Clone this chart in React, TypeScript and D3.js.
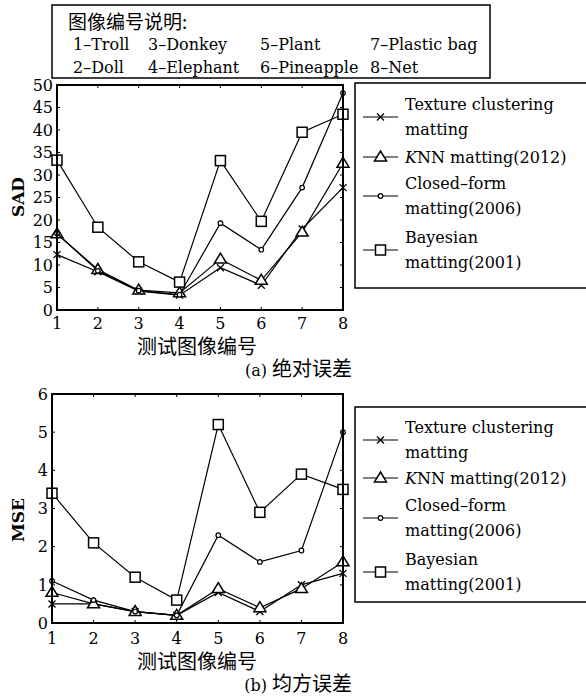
import * as d3 from 'd3';

const images = [1, 2, 3, 4, 5, 6, 7, 8];
const imageNames = ['1–Troll', '2–Doll', '3–Donkey', '4–Elephant', '5–Plant', '6–Pineapple', '7–Plastic bag', '8–Net'];

const sadTexture = [12.3, 8.5, 4.2, 3.3, 9.4, 5.5, 18.0, 27.2];
const sadKnn = [16.9, 9.0, 4.4, 3.8, 11.3, 6.6, 17.3, 32.6];
const sadClosed = [17.0, 8.7, 4.3, 3.4, 19.3, 13.4, 27.2, 48.2];
const sadBayes = [33.3, 18.4, 10.7, 6.2, 33.2, 19.7, 39.5, 43.5];

const mseTexture = [0.5, 0.5, 0.3, 0.2, 0.8, 0.3, 1.0, 1.3];
const mseKnn = [0.8, 0.5, 0.3, 0.2, 0.9, 0.4, 0.9, 1.6];
const mseClosed = [1.1, 0.6, 0.3, 0.2, 2.3, 1.6, 1.9, 5.0];
const mseBayes = [3.4, 2.1, 1.2, 0.6, 5.2, 2.9, 3.9, 3.5];

const sadTicks = d3.range(0, 51, 5);
const mseTicks = d3.range(0, 7, 1);

const legendLabels = [
  ['Texture clustering', 'matting'],
  ['KNN matting(2012)'],
  ['Closed–form', 'matting(2006)'],
  ['Bayesian', 'matting(2001)'],
];
const markers = ['cross', 'triangle', 'circle', 'square'];

const SERIF = '"DejaVu Serif", "Liberation Serif", serif';
const CJK = '"Noto Sans CJK SC", sans-serif';

function Marker({ type, x, y }: { type: string; x: number; y: number }) {
  if (type === 'cross') {
    const s = 3.5;
    return (
      <path
        d={`M${x - s},${y - s}L${x + s},${y + s}M${x - s},${y + s}L${x + s},${y - s}`}
        stroke="#000"
        strokeWidth={1.3}
      />
    );
  }
  if (type === 'triangle') {
    const s = 6;
    return (
      <path
        d={`M${x},${y - s}L${x + s},${y + s * 0.65}L${x - s},${y + s * 0.65}Z`}
        fill="#fff"
        stroke="#000"
        strokeWidth={1.5}
      />
    );
  }
  if (type === 'circle') {
    return <circle cx={x} cy={y} r={2.3} fill="#fff" stroke="#000" strokeWidth={1.2} />;
  }
  const s = 5;
  return <rect x={x - s} y={y - s} width={2 * s} height={2 * s} fill="#fff" stroke="#000" strokeWidth={1.5} />;
}

function Panel({ series, ticks, yMax, left, top, bottom, yLabel, yLabelY, legendTop, legendBottom, entryY, tickLabelY, xLabelY, caption, captionY }: any) {
  const right = 343;
  const x = d3.scaleLinear().domain([1, 8]).range([left, right]);
  const y = d3.scaleLinear().domain([0, yMax]).range([bottom, top]);
  const line = d3.line<number>().x((_, i) => x(images[i])).y((d) => y(d));

  return (
    <g>
      {series.map((s: number[], k: number) => (
        <g key={k}>
          <path d={line(s) || ''} fill="none" stroke="#000" strokeWidth={1.2} />
          {s.map((v, i) => (
            <Marker key={i} type={markers[k]} x={x(images[i])} y={y(v)} />
          ))}
        </g>
      ))}
      <rect x={left} y={top} width={right - left} height={bottom - top} fill="none" stroke="#000" strokeWidth={2} />
      {ticks.map((t: number) => (
        <g key={t}>
          <line x1={left} x2={left + 3} y1={y(t)} y2={y(t)} stroke="#000" strokeWidth={1} />
          <line x1={right - 3} x2={right} y1={y(t)} y2={y(t)} stroke="#000" strokeWidth={1} />
          <text x={left - 4} y={y(t)} dy="0.36em" textAnchor="end" fontFamily={SERIF} fontSize={16}>
            {t}
          </text>
        </g>
      ))}
      {images.map((d) => (
        <g key={d}>
          <line x1={x(d)} x2={x(d)} y1={bottom} y2={bottom - 3} stroke="#000" strokeWidth={1} />
          <line x1={x(d)} x2={x(d)} y1={top} y2={top + 3} stroke="#000" strokeWidth={1} />
          <text x={x(d)} y={tickLabelY} dy="0.36em" textAnchor="middle" fontFamily={SERIF} fontSize={16}>
            {d}
          </text>
        </g>
      ))}
      <text
        transform={`translate(18,${yLabelY}) rotate(-90)`}
        textAnchor="middle"
        dy="0.36em"
        fontFamily={SERIF}
        fontSize={17}
        fontWeight="bold"
      >
        {yLabel}
      </text>
      <text x={197} y={xLabelY} dy="0.36em" textAnchor="middle" fontFamily={CJK} fontSize={20}>
        测试图像编号
      </text>
      <text x={352} y={captionY} dy="0.36em" textAnchor="end" fontFamily={SERIF} fontSize={16}>
        {caption[0]}
        <tspan fontFamily={CJK} fontSize={20}>{caption[1]}</tspan>
      </text>

      {/* legend */}
      <rect x={355} y={legendTop} width={240} height={legendBottom - legendTop} fill="#fff" stroke="#000" strokeWidth={1.5} />
      {legendLabels.map((lab, k) => {
        const cy = entryY[k];
        return (
          <g key={k}>
            <line x1={363} x2={398} y1={cy} y2={cy} stroke="#000" strokeWidth={1.2} />
            <Marker type={markers[k]} x={380.5} y={cy} />
            {lab.map((t, j) => (
              <text
                key={j}
                x={405}
                y={cy + (lab.length === 1 ? 0 : j === 0 ? -13 : 12)}
                dy="0.36em"
                fontFamily={SERIF}
                fontSize={16}
              >
                {k === 1 ? (
                  <>
                    <tspan fontStyle="italic">K</tspan>
                    {t.slice(1)}
                  </>
                ) : (
                  t
                )}
              </text>
            ))}
          </g>
        );
      })}
    </g>
  );
}

export default function App() {
  const colX = [73, 148, 260, 370];
  return (
    <svg width={586} height={698} style={{ display: 'block', position: 'absolute', left: 0, top: 0, background: '#fff' }}>
      <rect width={586} height={698} fill="#fff" />
      <rect x={52} y={5} width={438} height={73} fill="#fff" stroke="#000" strokeWidth={1.5} />
      <text x={68} y={22} dy="0.36em" fontFamily={CJK} fontSize={19}>
        图像编号说明:
      </text>
      {imageNames.map((n, i) => (
        <text key={n} x={colX[Math.floor(i / 2)]} y={i % 2 === 0 ? 44 : 67} dy="0.36em" fontFamily={SERIF} fontSize={16}>
          {n}
        </text>
      ))}
      <Panel
        series={[sadTexture, sadKnn, sadClosed, sadBayes]}
        ticks={sadTicks}
        yMax={50}
        left={57}
        top={85}
        bottom={310}
        yLabel="SAD"
        yLabelY={197}
        legendTop={83}
        legendBottom={288}
        entryY={[117, 157, 196, 250]}
        tickLabelY={323}
        xLabelY={347}
        caption={['(a) ', '绝对误差']}
        captionY={370}
      />
      <Panel
        series={[mseTexture, mseKnn, mseClosed, mseBayes]}
        ticks={mseTicks}
        yMax={6}
        left={52}
        top={394}
        bottom={623}
        yLabel="MSE"
        yLabelY={520}
        legendTop={407}
        legendBottom={602}
        entryY={[440, 478, 518, 572]}
        tickLabelY={638}
        xLabelY={662}
        caption={['(b) ', '均方误差']}
        captionY={685}
      />
    </svg>
  );
}
